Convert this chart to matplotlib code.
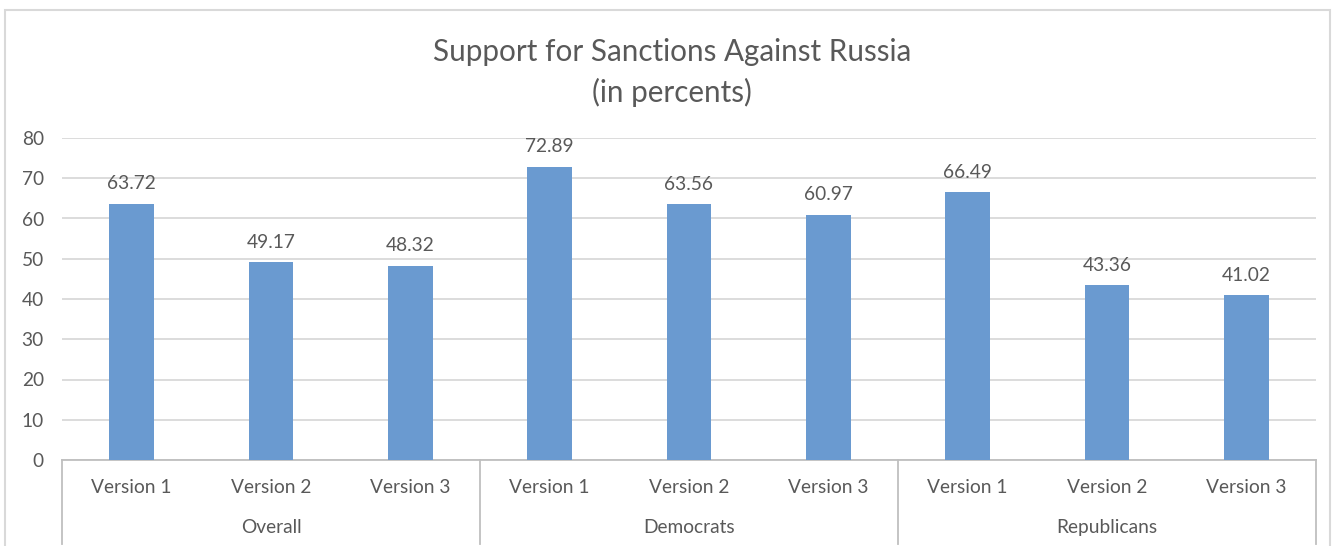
import matplotlib
matplotlib.use("Agg")
import matplotlib.pyplot as plt
from matplotlib.patches import Rectangle
import matplotlib.transforms as mtransforms

groups = ["Overall", "Democrats", "Republicans"]
versions = ["Version 1", "Version 2", "Version 3"]
values = [63.72, 49.17, 48.32, 72.89, 63.56, 60.97, 66.49, 43.36, 41.02]
yticks = [0, 10, 20, 30, 40, 50, 60, 70, 80]

plt.rcParams['font.family'] = ['Lato', 'DejaVu Sans']
text_color = "#595959"
grid_color = "#D9D9D9"
bar_color = "#6A9AD0"
fs = 13.8

fig = plt.figure(figsize=(13.42, 5.46), dpi=100)
ax = fig.add_axes([62/1342, 1-460/546, (1316-62)/1342, (460-138)/546])

n = len(values)
xs = list(range(n))
ax.bar(xs, values, width=0.32, color=bar_color, zorder=3)
for x, v in zip(xs, values):
    ax.text(x, v + 2.8, f"{v:.2f}", ha="center", va="bottom", fontsize=fs, color=text_color, zorder=4)

ax.set_xlim(-0.5, n - 0.5)
ax.set_ylim(0, 80)
ax.set_yticks(yticks)
ax.set_yticklabels([str(t) for t in yticks], fontsize=fs, color=text_color)
ax.yaxis.grid(True, color=grid_color, linewidth=1.3, zorder=0)
ax.tick_params(axis="y", length=0, pad=13)
ax.set_xticks([])
for s in ["top", "right", "left"]:
    ax.spines[s].set_visible(False)
ax.spines["bottom"].set_color("#BFBFBF")
ax.spines["bottom"].set_linewidth(1.3)

trans = mtransforms.blended_transform_factory(ax.transData, ax.transAxes)
for i, x in enumerate(xs):
    ax.text(x, -0.085, versions[i % 3], transform=trans, ha="center", va="center",
            fontsize=fs, color=text_color, clip_on=False)
for g, name in enumerate(groups):
    ax.text(3 * g + 1, -0.21, name, transform=trans, ha="center", va="center",
            fontsize=fs, color=text_color, clip_on=False)
for xsep in [-0.5, 2.5, 5.5, 8.5]:
    ax.plot([xsep, xsep], [0, -0.26], transform=trans, color="#BFBFBF", linewidth=1.3, clip_on=False)

fig.text(672/1342, 1-52/546, "Support for Sanctions Against Russia", ha="center", va="center",
         fontsize=21.3, color=text_color)
fig.text(672/1342, 1-92/546, "(in percents)", ha="center", va="center",
         fontsize=21.3, color=text_color)

fig.patches.append(Rectangle((5/1342, -0.05), (1330-5)/1342, 1.05-10/546, transform=fig.transFigure,
                             fill=False, edgecolor="#D9D9D9", linewidth=1.5))

fig.savefig("out.png", dpi=100, facecolor="white")
